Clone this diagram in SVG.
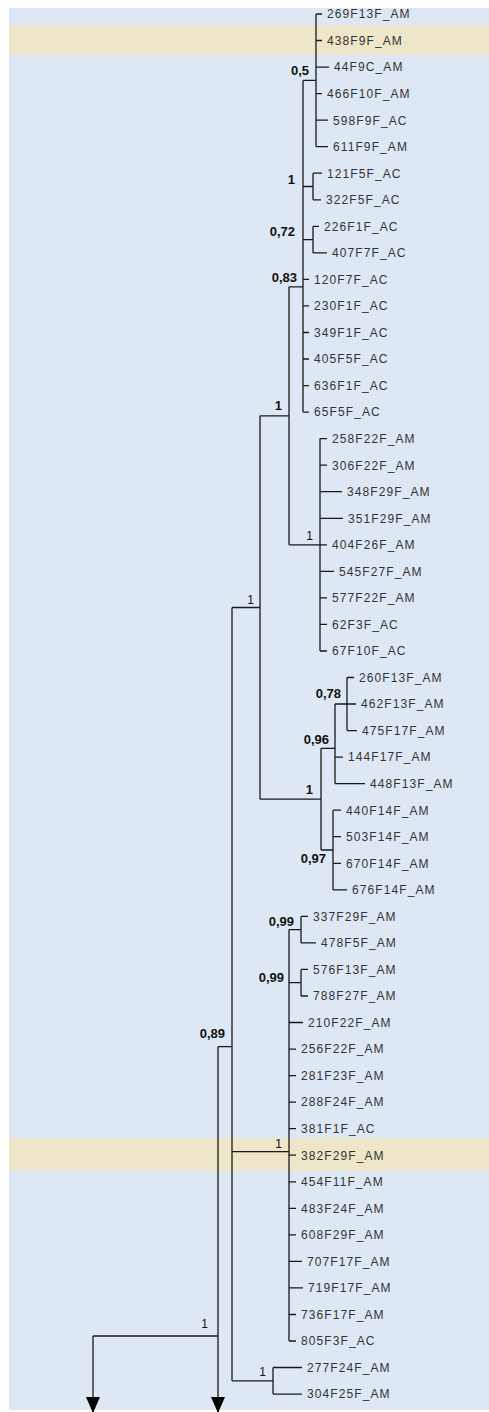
<svg xmlns="http://www.w3.org/2000/svg" width="489" height="1412" viewBox="0 0 489 1412">
<defs>
<style>
.leaf{font-family:"Liberation Sans",Arial,sans-serif;font-size:12px;letter-spacing:1.1px;fill:#333}
.sup{font-family:"Liberation Sans",Arial,sans-serif;font-size:13px;font-weight:bold;fill:#111;text-anchor:end}
.supr{font-family:"Liberation Sans",Arial,sans-serif;font-size:12px;fill:#111;text-anchor:end}
.br{fill:none;stroke:#1a1a1a;stroke-width:1.3}
</style>
<marker id="arr" viewBox="0 0 16 14" refX="16" refY="7" markerWidth="16" markerHeight="14" markerUnits="userSpaceOnUse" orient="auto">
<path d="M0,0 L16,7 L0,14 z" fill="#000"/>
</marker>
</defs>
<rect x="0" y="0" width="489" height="1412" fill="#ffffff"/>
<rect x="9" y="8" width="480" height="1402" fill="#dde8f4"/>
<rect x="9" y="25" width="480" height="30" fill="#ede6c8"/>
<rect x="9" y="1138" width="480" height="33" fill="#ede6c8"/>

<g id="connectors" class="br">
<path d="M316,14 V146.7 M303,80.4 H316"/>
<path d="M313,173.2 V199.8 M303,186.5 H313"/>
<path d="M313,226.3 V252.9 M303,239.6 H313"/>
<path d="M303,80.4 V412.1 M289,286.8 H303"/>
<path d="M320,438.6 V651 M289,544.8 H320"/>
<path d="M289,286.8 V544.8 M260,415.8 H289"/>
<path d="M347,677.5 V730.6 M335,704 H347"/>
<path d="M335,704 V783.7 M321,748.3 H335"/>
<path d="M333,810.2 V889.8 M321,850 H333"/>
<path d="M321,748.3 V850 M260,799.2 H321"/>
<path d="M260,415.8 V799.2 M232,607.5 H260"/>
<path d="M301,916.4 V942.9 M289,929.6 H301"/>
<path d="M301,969.4 V996 M289,982.7 H301"/>
<path d="M289,929.6 V1341 M232,1151.7 H289"/>
<path d="M273,1367.5 V1394.1 M232,1380.8 H273"/>
<path d="M232,607.5 V1380.8 M218,1046.7 H232"/>
<path d="M93,1336 H218"/>
<path d="M218,1046.7 V1413" marker-end="url(#arr)"/>
<path d="M93,1336 V1413" marker-end="url(#arr)"/>
<!-- leaf ticks -->
<path d="M316,14 H322 M316,40.5 H322 M316,67.1 H329 M316,93.6 H322 M316,120.2 H328 M316,146.7 H328"/>
<path d="M313,173.2 H322 M313,199.8 H321 M313,226.3 H319 M313,252.9 H327"/>
<path d="M303,279.4 H309 M303,305.9 H309 M303,332.5 H309 M303,359 H309 M303,385.6 H309 M303,412.1 H309"/>
<path d="M320,438.6 H327 M320,465.2 H327 M320,491.7 H342 M320,518.3 H343 M320,544.8 H327 M320,571.3 H334 M320,597.9 H327 M320,624.4 H327 M320,651 H327"/>
<path d="M347,677.5 H354 M347,704 H356 M347,730.6 H357 M335,757.1 H343 M335,783.7 H365"/>
<path d="M333,810.2 H341 M333,836.7 H341 M333,863.3 H341 M333,889.8 H347"/>
<path d="M301,916.4 H308 M301,942.9 H316 M301,969.4 H308 M301,996 H308"/>
<path d="M289,1022.5 H303 M289,1049.1 H296 M289,1075.6 H296 M289,1102.1 H296 M289,1128.7 H296 M289,1155.2 H296 M289,1181.8 H296 M289,1208.3 H296 M289,1234.8 H296 M289,1261.4 H302 M289,1287.9 H303 M289,1314.5 H296 M289,1341 H296"/>
<path d="M273,1367.5 H302 M273,1394.1 H302"/>
</g>

<g id="leaves" class="leaf">
<g id="n1"><text x="327" y="18.3">269F13F_AM</text></g>
<g id="n2"><text x="327" y="44.8">438F9F_AM</text></g>
<g id="n3"><text x="334" y="71.4">44F9C_AM</text></g>
<g id="n4"><text x="327" y="97.9">466F10F_AM</text></g>
<g id="n5"><text x="333" y="124.5">598F9F_AC</text></g>
<g id="n6"><text x="333" y="151">611F9F_AM</text></g>
<g id="n7"><text x="327" y="177.5">121F5F_AC</text></g>
<g id="n8"><text x="326" y="204.1">322F5F_AC</text></g>
<g id="n9"><text x="324" y="230.6">226F1F_AC</text></g>
<g id="n10"><text x="332" y="257.2">407F7F_AC</text></g>
<g id="n11"><text x="314" y="283.7">120F7F_AC</text></g>
<g id="n12"><text x="314" y="310.2">230F1F_AC</text></g>
<g id="n13"><text x="314" y="336.8">349F1F_AC</text></g>
<g id="n14"><text x="314" y="363.3">405F5F_AC</text></g>
<g id="n15"><text x="314" y="389.9">636F1F_AC</text></g>
<g id="n16"><text x="314" y="416.4">65F5F_AC</text></g>
<g id="n17"><text x="332" y="442.9">258F22F_AM</text></g>
<g id="n18"><text x="332" y="469.5">306F22F_AM</text></g>
<g id="n19"><text x="347" y="496">348F29F_AM</text></g>
<g id="n20"><text x="348" y="522.6">351F29F_AM</text></g>
<g id="n21"><text x="332" y="549.1">404F26F_AM</text></g>
<g id="n22"><text x="339" y="575.6">545F27F_AM</text></g>
<g id="n23"><text x="332" y="602.2">577F22F_AM</text></g>
<g id="n24"><text x="332" y="628.7">62F3F_AC</text></g>
<g id="n25"><text x="332" y="655.3">67F10F_AC</text></g>
<g id="n26"><text x="359" y="681.8">260F13F_AM</text></g>
<g id="n27"><text x="361" y="708.3">462F13F_AM</text></g>
<g id="n28"><text x="362" y="734.9">475F17F_AM</text></g>
<g id="n29"><text x="348" y="761.4">144F17F_AM</text></g>
<g id="n30"><text x="370" y="788">448F13F_AM</text></g>
<g id="n31"><text x="346" y="814.5">440F14F_AM</text></g>
<g id="n32"><text x="346" y="841">503F14F_AM</text></g>
<g id="n33"><text x="346" y="867.6">670F14F_AM</text></g>
<g id="n34"><text x="352" y="894.1">676F14F_AM</text></g>
<g id="n35"><text x="313" y="920.7">337F29F_AM</text></g>
<g id="n36"><text x="321" y="947.2">478F5F_AM</text></g>
<g id="n37"><text x="313" y="973.7">576F13F_AM</text></g>
<g id="n38"><text x="313" y="1000.3">788F27F_AM</text></g>
<g id="n39"><text x="308" y="1026.8">210F22F_AM</text></g>
<g id="n40"><text x="301" y="1053.4">256F22F_AM</text></g>
<g id="n41"><text x="301" y="1079.9">281F23F_AM</text></g>
<g id="n42"><text x="301" y="1106.4">288F24F_AM</text></g>
<g id="n43"><text x="301" y="1133">381F1F_AC</text></g>
<g id="n44"><text x="301" y="1159.5">382F29F_AM</text></g>
<g id="n45"><text x="301" y="1186.1">454F11F_AM</text></g>
<g id="n46"><text x="301" y="1212.6">483F24F_AM</text></g>
<g id="n47"><text x="301" y="1239.1">608F29F_AM</text></g>
<g id="n48"><text x="307" y="1265.7">707F17F_AM</text></g>
<g id="n49"><text x="308" y="1292.2">719F17F_AM</text></g>
<g id="n50"><text x="301" y="1318.8">736F17F_AM</text></g>
<g id="n51"><text x="301" y="1345.3">805F3F_AC</text></g>
<g id="n52"><text x="307" y="1371.8">277F24F_AM</text></g>
<g id="n53"><text x="307" y="1398.4">304F25F_AM</text></g>
</g>

<g id="supports">
<g id="sA"><text class="sup" x="309" y="75">0,5</text></g>
<g id="sB"><text class="sup" x="295" y="184">1</text></g>
<g id="sC"><text class="sup" x="295" y="236">0,72</text></g>
<g id="sD"><text class="sup" x="297" y="282">0,83</text></g>
<g id="sF"><text class="sup" x="282" y="410">1</text></g>
<g id="sE"><text class="supr" x="313" y="540">1</text></g>
<g id="sK"><text class="supr" x="254" y="604">1</text></g>
<g id="sG"><text class="sup" x="341" y="698">0,78</text></g>
<g id="sH"><text class="sup" x="329" y="744">0,96</text></g>
<g id="sJ"><text class="sup" x="313" y="794">1</text></g>
<g id="sI"><text class="sup" x="326" y="863">0,97</text></g>
<g id="sL"><text class="sup" x="294" y="926">0,99</text></g>
<g id="sM"><text class="sup" x="284" y="982">0,99</text></g>
<g id="sP"><text class="sup" x="225" y="1038">0,89</text></g>
<g id="sN"><text class="supr" x="282" y="1148">1</text></g>
<g id="sO"><text class="supr" x="266" y="1376">1</text></g>
<g id="sQ"><text class="supr" x="208" y="1328">1</text></g>
</g>
</svg>
